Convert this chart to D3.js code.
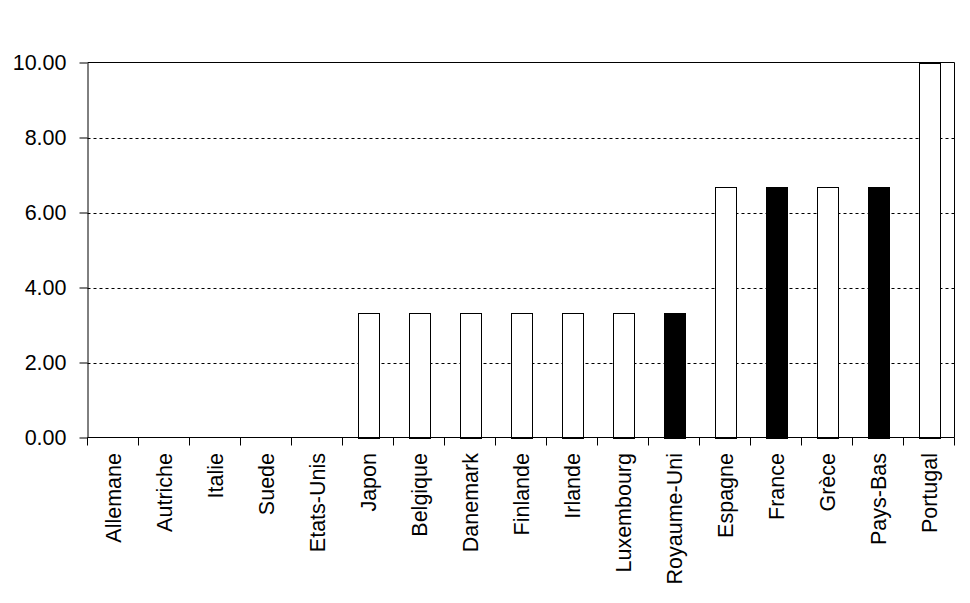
<!DOCTYPE html>
<html><head><meta charset="utf-8">
<script src="https://cdn.jsdelivr.net/npm/d3@7"></script>
<style>body{margin:0;background:#fff}svg{display:block}</style>
</head><body>
<svg id="c" width="970" height="603"></svg>
<script>
const categories = ["Allemane","Autriche","Italie","Suede","Etats-Unis","Japon","Belgique","Danemark","Finlande","Irlande","Luxembourg","Royaume-Uni","Espagne","France","Grèce","Pays-Bas","Portugal"];
const values = [0,0,0,0,0,3.33,3.33,3.33,3.33,3.33,3.33,3.33,6.67,6.67,6.67,6.67,10];
const highlighted = ["Royaume-Uni","France","Pays-Bas"];
const yTicks = [0,2,4,6,8,10];

const svg = d3.select("#c");
const L = 87.5, R = 954.5, T = 62.5, B = 437.5;
const font = "'Liberation Sans', Arial, sans-serif";

const x = d3.scaleBand().domain(categories).range([L, R]).paddingInner(0).paddingOuter(0);
const y = d3.scaleLinear().domain([0, 10]).range([B, T]);

// gridlines
svg.append("g").selectAll("line").data(yTicks.filter(t => t > 0 && t < 10)).join("line")
  .attr("x1", L).attr("x2", R).attr("y1", d => Math.round(y(d)) + 0.5).attr("y2", d => Math.round(y(d)) + 0.5)
  .attr("stroke", "#000").attr("stroke-width", 1).attr("stroke-dasharray", "3,3");

// plot box top & right
svg.append("line").attr("x1", L).attr("x2", R).attr("y1", T).attr("y2", T).attr("stroke", "#000");
svg.append("line").attr("x1", R).attr("x2", R).attr("y1", T).attr("y2", B).attr("stroke", "#000");

// bars
const bw = 21;
svg.append("g").selectAll("rect").data(categories.map((c, i) => ({c, v: values[i]})).filter(d => d.v > 0)).join("rect")
  .attr("x", d => Math.round(x(d.c) + x.bandwidth() / 2 - bw / 2) + 0.5)
  .attr("y", d => Math.round(y(d.v)) + 0.5)
  .attr("width", bw)
  .attr("height", d => Math.round(B) - Math.round(y(d.v)))
  .attr("fill", d => highlighted.includes(d.c) ? "#000" : "#fff")
  .attr("stroke", "#000").attr("stroke-width", 1);

// y axis
const yAxis = d3.axisLeft(y).tickValues(yTicks).tickFormat(d3.format(".2f")).tickSizeInner(8).tickSizeOuter(0).tickPadding(13);
const gy = svg.append("g").attr("transform", `translate(${L},0)`).call(yAxis);
gy.selectAll("text").attr("font-family", font).attr("font-size", "21.5px").attr("fill", "#000");
gy.selectAll("line,path").attr("stroke", "#000");

// x axis ticks at band boundaries
const bounds = categories.map(c => x(c)).concat([R]);
svg.append("g").selectAll("line").data(bounds).join("line")
  .attr("x1", d => Math.round(d - 0.5) + 0.5).attr("x2", d => Math.round(d - 0.5) + 0.5)
  .attr("y1", B).attr("y2", B + 8).attr("stroke", "#000");
svg.append("line").attr("x1", L).attr("x2", R).attr("y1", B).attr("y2", B).attr("stroke", "#000");

// x labels
svg.append("g").selectAll("text").data(categories).join("text")
  .attr("transform", d => `translate(${x(d) + x.bandwidth() / 2},453) rotate(-90)`)
  .attr("text-anchor", "end").attr("dy", "0.35em")
  .attr("font-family", font).attr("font-size", "21.5px").attr("fill", "#000")
  .text(d => d);
</script>
</body></html>
